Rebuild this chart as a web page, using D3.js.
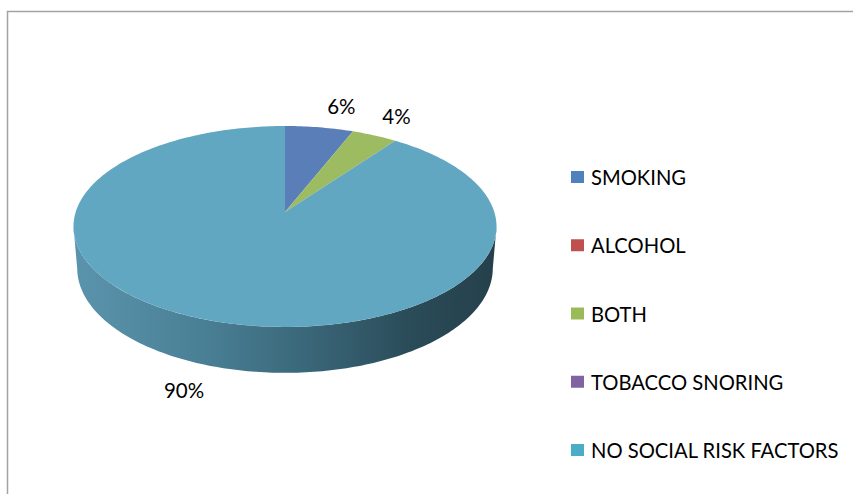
<!DOCTYPE html>
<html>
<head>
<meta charset="utf-8">
<script src="https://cdn.jsdelivr.net/npm/d3@7"></script>
<style>
  html, body { margin: 0; padding: 0; background: #fff; }
  svg { display: block; }
</style>
</head>
<body>
<svg id="chart" width="853" height="494"></svg>
<script>
// ---- data ----
const categories = ["SMOKING", "ALCOHOL", "BOTH", "TOBACCO SNORING", "NO SOCIAL RISK FACTORS"];
const values = [6, 0, 4, 0, 90];
const valueLabels = ["6%", "", "4%", "", "90%"];
const seriesColors = ["#4f81bd", "#c0504d", "#9bbb59", "#8064a2", "#4bacc6"];
const faceColors = ["#5a7fb8", "#c0504d", "#9dbb60", "#8064a2", "#62a7c1"];

// ---- layout ----
const W = 853, H = 494;
const svg = d3.select("#chart");
const font = "Lato, 'Open Sans', sans-serif";

svg.append("rect").attr("x", 7.5).attr("y", 11.5).attr("width", W + 10).attr("height", H + 10)
  .attr("fill", "none").attr("stroke", "#a3a3a3").attr("stroke-width", 1.5);

// perspective projection of a flat disc (unit radius) with thickness
const cx = 285, cy = 212;
const A = 209.3;            // horizontal scale
const sinA = 0.470, cosA = 0.883;
const u = 0.144, w = 0.0767;
const thick = 0.228;

function project(phi, k, y) {
  const X = k * Math.sin(phi), Z = k * Math.cos(phi), Y = y;
  const d = 1 + u * Z - w * Y;
  return [cx + A * X / d, cy - A * (Z * sinA + Y * cosA) / d];
}

const pie = d3.pie().sort(null).value(d => d.value).startAngle(0).endAngle(2 * Math.PI);
const data = categories.map((c, i) => ({ cat: c, value: values[i], label: valueLabels[i], i }));
const arcs = pie(data);

function arcPoints(a0, a1, k, y) {
  const n = Math.max(2, Math.ceil((a1 - a0) / (Math.PI / 180)));
  const pts = [];
  for (let j = 0; j <= n; j++) pts.push(project(a0 + (a1 - a0) * j / n, k, y));
  return pts;
}

const line = d3.line();

// side gradient
const defs = svg.append("defs");
const grad = defs.append("linearGradient").attr("id", "sideGrad")
  .attr("gradientUnits", "userSpaceOnUse").attr("x1", 74).attr("x2", 497).attr("y1", 0).attr("y2", 0);
[[0, "#5a94ac"], [0.3, "#4a8096"], [0.55, "#3a6779"], [0.8, "#2a4b58"], [1, "#25404b"]]
  .forEach(([o, c]) => grad.append("stop").attr("offset", o).attr("stop-color", c));

const visLo = Math.acos(-u), visHi = 2 * Math.PI - Math.acos(-u);
const g = svg.append("g");

// sides
arcs.forEach(a => {
  if (a.endAngle - a.startAngle <= 0) return;
  const s = Math.max(a.startAngle, visLo), e = Math.min(a.endAngle, visHi);
  if (e <= s) return;
  const top = arcPoints(s, e, 1, 0);
  const bot = arcPoints(s, e, 1, -thick).reverse();
  g.append("path").attr("d", line(top.concat(bot)) + "Z").attr("fill", "url(#sideGrad)");
});

// top faces
arcs.forEach(a => {
  if (a.endAngle - a.startAngle <= 0) return;
  const pts = [project(0, 0, 0)].concat(arcPoints(a.startAngle, a.endAngle, 1, 0));
  g.append("path").attr("d", line(pts) + "Z").attr("fill", faceColors[a.data.i]);
});

// data labels
const labelNudge = { 0: [22, -21], 2: [22, -19], 4: [-26, 70] };
arcs.forEach(a => {
  if (!a.data.label) return;
  const mid = (a.startAngle + a.endAngle) / 2;
  const p = project(mid, 1, 0);
  const n = labelNudge[a.data.i] || [0, 0];
  g.append("text").attr("x", p[0] + n[0]).attr("y", p[1] + n[1])
    .attr("text-anchor", "middle").attr("dominant-baseline", "central")
    .attr("font-family", font).attr("font-size", 20.5).attr("fill", "#000")
    .text(a.data.label);
});

// legend
const ly = d3.scalePoint().domain(categories).range([177, 450]);
const leg = svg.append("g");
categories.forEach((c, i) => {
  leg.append("rect").attr("x", 571).attr("y", ly(c) - 6).attr("width", 13).attr("height", 12)
    .attr("fill", seriesColors[i]);
  leg.append("text").attr("x", 591).attr("y", ly(c)).attr("dominant-baseline", "central")
    .attr("font-family", font).attr("font-size", 20.2).attr("fill", "#000").text(c);
});
</script>
</body>
</html>
